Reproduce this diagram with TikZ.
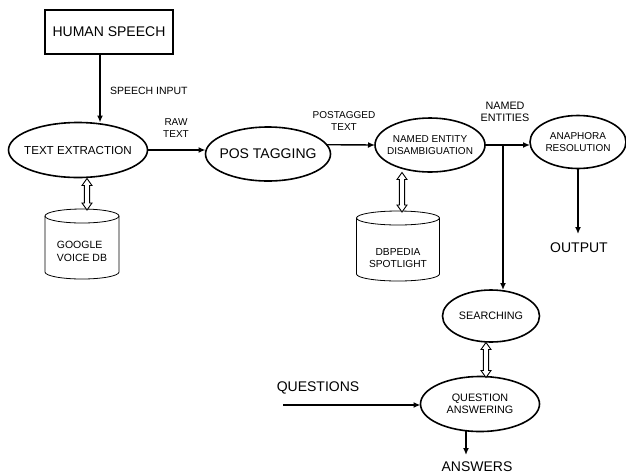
\documentclass[tikz,border=0pt]{standalone}
\usepackage{fontspec}
\setmainfont{Liberation Sans}
\usetikzlibrary{arrows.meta,shapes.geometric,calc}
\begin{document}
\begin{tikzpicture}[x=1pt,y=-1pt,
  every node/.style={inner sep=0pt, outer sep=0pt},
  every label/.style={inner sep=0pt, align=center},
  proc/.style={draw, ellipse, line width=1.6pt},
  arr/.style={line width=1.4pt, -{Latex[length=7pt,width=6pt]}},
  dblv/.style={line width=0.9pt, fill=white, line join=miter,
    to path={let \p1=(\tikztostart), \p2=(\tikztotarget) in
      (\x1,\y1) -- (\x1+5pt,\y1-7pt) -- (\x1+2.6pt,\y1-7pt) -- (\x1+2.6pt,\y2+7pt)
      -- (\x1+5pt,\y2+7pt) -- (\x1,\y2) -- (\x1-5pt,\y2+7pt) -- (\x1-2.6pt,\y2+7pt)
      -- (\x1-2.6pt,\y1-7pt) -- (\x1-5pt,\y1-7pt) -- cycle}},
  cylbox/.style={minimum width=#1, minimum height=70pt},
  lab/.style={font=\fontsize{10}{11.5}\selectfont, align=center},
  big/.style={font=\fontsize{14}{16}\selectfont}]
\useasboundingbox (0,0) rectangle (626,475);

% nodes
\node[draw, line width=1.4pt, minimum width=128pt, minimum height=44pt, big] (hs) at (109,32) {HUMAN SPEECH};
\node[proc, minimum width=139pt, minimum height=55pt,
  label={[font=\fontsize{11.6}{13}\selectfont]center:TEXT EXTRACTION}] (te) at (78,150) {};
\node[proc, minimum width=125pt, minimum height=54pt,
  label={[font=\fontsize{14}{16}\selectfont]center:POS TAGGING}] (pos) at (268,154) {};
\node[proc, minimum width=110pt, minimum height=54pt,
  label={[font=\fontsize{10}{11.5}\selectfont]center:NAMED ENTITY\\[1pt]DISAMBIGUATION}] (ned) at (430,145) {};
\node[proc, minimum width=96pt, minimum height=53pt,
  label={[font=\fontsize{10}{11.5}\selectfont]center:ANAPHORA\\[1pt]RESOLUTION}] (ana) at (578,142) {};
\node[proc, minimum width=97pt, minimum height=52pt,
  label={[font=\fontsize{10.8}{12}\selectfont]center:SEARCHING}] (search) at (491,316) {};
\node[proc, minimum width=119pt, minimum height=55pt,
  label={[font=\fontsize{10.8}{12.5}\selectfont]center:QUESTION\\ANSWERING}] (qa) at (480,404) {};

% cylinders
\node[cylbox=74pt] (gdb) at (82,244) {};
\node[cylbox=83pt] (dbp) at (398,246) {};
\node[font=\fontsize{10.5}{13}\selectfont, align=left] (gdbtext) at (82,251) {GOOGLE\\VOICE DB};
\node[font=\fontsize{10.2}{11.5}\selectfont, align=center] (dbptext) at (398,258) {DBPEDIA\\SPOTLIGHT};
\foreach \c/\rx in {gdb/37, dbp/41.5}{
  \draw[line width=0.8pt] ([yshift=-7pt]\c.north) ellipse [x radius=\rx pt, y radius=7pt];
  \draw[line width=0.8pt] ([yshift=-7pt]\c.north west) -- ([yshift=7pt]\c.south west)
     arc[start angle=180, end angle=360, x radius=\rx pt, y radius=7pt] -- ([yshift=-7pt]\c.north east);
}

% labels
\node[lab, font=\fontsize{10.5}{12}\selectfont, anchor=west] (l1) at (110,91) {SPEECH INPUT};
\node[lab] (l2) at (176,128) {RAW\\TEXT};
\node[lab] (l3) at (344,121) {POSTAGGED\\TEXT};
\node[lab, font=\fontsize{10.8}{12.5}\selectfont] (l4) at (505,112) {NAMED\\ENTITIES};
\node[big] (out) at (579,248) {OUTPUT};
\node[big] (qs) at (318,388) {QUESTIONS};
\node[big] (ans) at (477,467) {ANSWERS};

% connector endpoints
\coordinate (j) at (503,145);
\coordinate (outp) at (578,234);
\coordinate (qin) at (283,405);
\coordinate (ansp) at (466,455);

% connectors
\draw[arr] ([xshift=-9pt]hs.south) -- ([xshift=-9pt]hs.south |- te.north);
\draw[arr] (te.east) -- (te.east -| pos.west);
\draw[arr] (pos.9) -- (ned.west);
\draw[arr] (ned.east) -- (ned.east -| ana.west);
\draw[arr] (j) -- (j |- search.north);
\draw[arr] (ana.south) -- (outp);
\draw[arr] (qin) -- (qin -| qa.west);
\draw[arr] ([yshift=1pt]qa.south -| ansp) -- (ansp);
\draw[dblv] ([xshift=9pt,yshift=-1pt]te.south) to ([xshift=5pt,yshift=-1pt]gdb.north);
\draw[dblv] ([xshift=-28pt,yshift=-0.5pt]ned.south) to ([xshift=4pt,yshift=-1pt]dbp.north);
\draw[dblv] ([xshift=-5pt,yshift=-0.5pt]search.south) to ([xshift=6pt,yshift=-1pt]qa.north);
\end{tikzpicture}
\end{document}
